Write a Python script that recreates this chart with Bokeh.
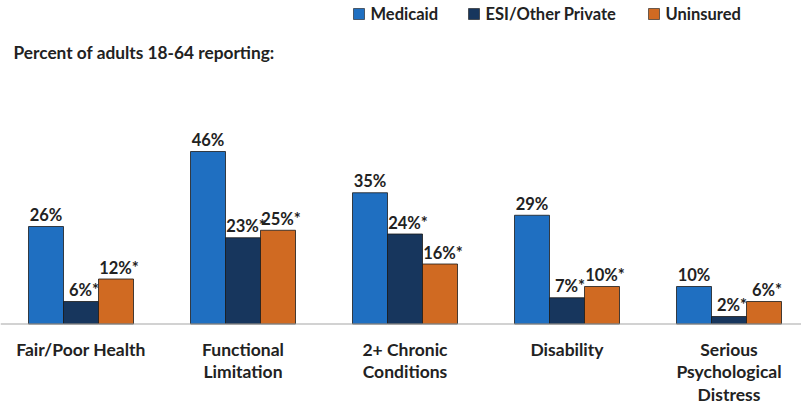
from bokeh.plotting import figure
from bokeh.models import ColumnDataSource, Range1d, Span
from bokeh.core.properties import value
from bokeh.embed import file_html
from bokeh.resources import INLINE

categories = ["Fair/Poor Health", "Functional\nLimitation", "2+ Chronic\nConditions",
              "Disability", "Serious\nPsychological\nDistress"]
series = ["Medicaid", "ESI/Other Private", "Uninsured"]
medicaid = [26, 46, 35, 29, 10]
esi = [6, 23, 24, 7, 2]
uninsured = [12, 25, 16, 10, 6]
colors = ["#1F6FC1", "#17365D", "#D06A22"]
title = "Percent of adults 18-64 reporting:"

FONT = "Lato"
W, H = 801, 408
base_px = 323.5
px_per = 3.75
center0 = 80.5
spacing = 162.0

p = figure(width=W, height=H, output_backend="svg", toolbar_location=None,
           min_border=0, x_axis_type=None, y_axis_type=None)
p.x_range = Range1d(-center0 / spacing, (W - center0) / spacing)
p.y_range = Range1d(-(H - base_px) / px_per, base_px / px_per)
p.outline_line_color = None
p.grid.visible = False
p.background_fill_color = "white"
p.border_fill_color = "white"


def dx(px):
    return p.x_range.start + px / spacing


def dy(py):
    return p.y_range.end - py / px_per


bw = 35.0 / spacing
offsets = [-bw, 0.0, bw]
vals = [medicaid, esi, uninsured]
for k, (name, v) in enumerate(zip(series, vals)):
    xs = [i + offsets[k] for i in range(len(categories))]
    src = ColumnDataSource(dict(x=xs, top=v,
                                lab=[f"{a}%" + ("" if k == 0 else "*") for a in v]))
    p.vbar(x="x", top="top", bottom=0, width=bw, source=src,
           fill_color=colors[k], line_color="#1a1a1a", line_width=0.8)
    p.text(x="x", y="top", text="lab", source=src, text_align="center",
           text_baseline="bottom", y_offset=-1.5, x_offset=(0 if k == 0 else 3),
           text_font=value(FONT), text_font_style="bold", text_font_size="16.5px",
           text_color="#222222")

p.add_layout(Span(location=0, dimension="width", line_color="#A6A6A6", line_width=1.2))

# category labels
cat_src = ColumnDataSource(dict(x=list(range(len(categories))),
                                y=[0] * len(categories), t=categories))
p.text(x="x", y="y", text="t", source=cat_src, text_align="center",
       text_baseline="top", y_offset=14.8, text_line_height=1.07,
       text_font=value(FONT), text_font_style="bold", text_font_size="17.5px",
       text_color="#222222")

# title
p.text(x=[dx(13)], y=[dy(41.5)], text=[title],
       text_baseline="top", text_align="left", text_font=value(FONT),
       text_font_style="bold", text_font_size="17.3px", text_color="#222222")

# legend
leg_x = [353, 468, 648]
for k, name in enumerate(series):
    p.scatter(x=[dx(leg_x[k] + 5.5)], y=[dy(13.5)], marker="square", size=11,
              fill_color=colors[k], line_color="#1a1a1a", line_width=0.6)
    p.text(x=[dx(leg_x[k] + 17)], y=[dy(13.5)], text=[name],
           text_baseline="middle", text_align="left", text_font=value(FONT),
           text_font_style="bold", text_font_size="16.5px", text_color="#222222")

open("out.html", "w").write(file_html(p, INLINE))
